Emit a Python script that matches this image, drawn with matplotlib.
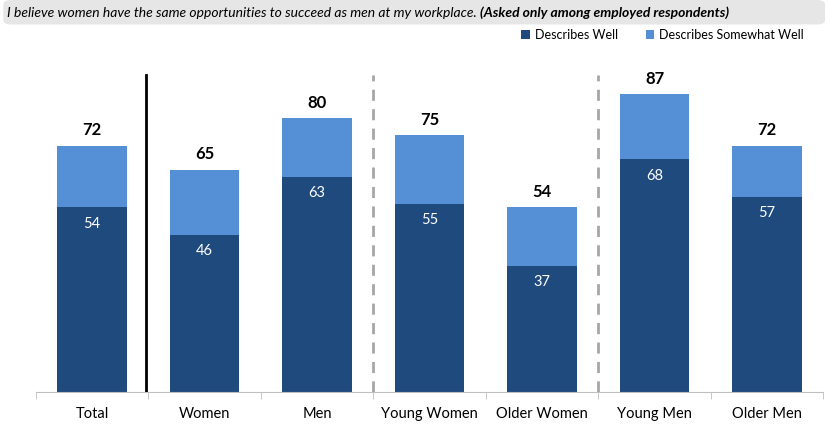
import numpy as np
import matplotlib.pyplot as plt
from matplotlib.patches import FancyBboxPatch

# data
groups = ["Total", "Women", "Men", "Young Women", "Older Women", "Young Men", "Older Men"]
well = [54, 46, 63, 55, 37, 68, 57]
total = [72, 65, 80, 75, 54, 87, 72]
somewhat = [t - w for t, w in zip(total, well)]

dark = "#1F4A7E"
light = "#558FD6"

plt.rcParams['font.family'] = ['Lato', 'DejaVu Sans']

fig = plt.figure(figsize=(8.3, 4.3), dpi=100)
ax = fig.add_axes([0.043, 0.088, 0.949, 0.796])

x = np.arange(len(groups))
ax.bar(x, well, width=0.62, color=dark, label="Describes Well", zorder=2)
ax.bar(x, somewhat, width=0.62, bottom=well, color=light,
       label="Describes Somewhat Well", zorder=2)

for i in range(len(groups)):
    ax.text(x[i], total[i] + 2.2, str(total[i]), ha='center', va='bottom',
            fontsize=12, fontweight='bold', color='black')
    ax.text(x[i], well[i] - 4.8, str(well[i]), ha='center', va='center',
            fontsize=10.5, color='white')

# separators
ax.plot([0.48, 0.48], [0, 92.8], color='black', lw=2, zorder=3)
for b in [2.5, 4.5]:
    ax.plot([b, b], [0, 92.8], color='#a6a6a6', lw=2, ls=(0, (4, 3)), zorder=3)

ax.set_xlim(-0.5, len(groups) - 0.5)
ax.set_ylim(0, 100)
ax.set_xticks(x)
ax.set_xticklabels(groups, fontsize=10.5)
ax.set_xticks(np.arange(-0.5, len(groups)), minor=True)
ax.tick_params(axis='x', which='major', length=0, pad=11)
ax.tick_params(axis='x', which='minor', length=5, color='#bfbfbf')
ax.set_yticks([])
for s in ['top', 'right', 'left']:
    ax.spines[s].set_visible(False)
ax.spines['bottom'].set_color('#bfbfbf')

leg = ax.legend(loc='upper right', bbox_to_anchor=(0.99, 1.095), ncol=2,
                frameon=False, fontsize=9, handlelength=0.7, handleheight=0.7,
                columnspacing=2.2, handletextpad=0.4)

# title strip
strip = FancyBboxPatch((0.004, 0.943), 0.99, 0.057,
                       boxstyle="round,pad=0,rounding_size=0.01",
                       transform=fig.transFigure, facecolor='#e6e6e6',
                       edgecolor='none', zorder=-1)
fig.add_artist(strip)
t1 = fig.text(0.008, 0.955, "I believe women have the same opportunities to succeed as men at my workplace. ",
              fontsize=10, style='italic', va='bottom', zorder=5)
fig.canvas.draw()
bb = t1.get_window_extent().transformed(fig.transFigure.inverted())
fig.text(bb.x1, 0.955, "(Asked only among employed respondents)", fontsize=10,
         style='italic', fontweight='bold', va='bottom', ha='left', zorder=5)

fig.savefig("out.png", dpi=100)
